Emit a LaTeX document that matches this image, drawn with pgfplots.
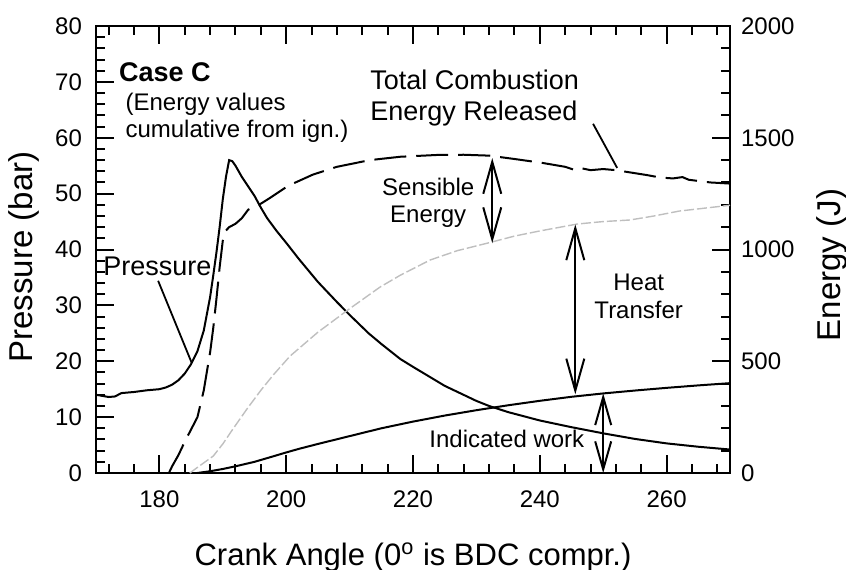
\documentclass[border=0pt]{standalone}
\usepackage{fontspec}
\setmainfont{Liberation Sans}
\usepackage{pgfplots}
\pgfplotsset{compat=1.18}
\usetikzlibrary{arrows.meta}

\pgfplotstableread{
x P
170 14.0
171 13.8
172 13.6
173 13.7
174 14.3
176 14.5
178 14.8
180 15.0
181 15.3
182 15.8
183 16.6
184 17.8
185 19.5
186 21.8
187 25.5
188 31.5
188.5 35.4
189 39.5
189.5 44
190 49
190.5 53
191 56
191.5 55.8
192 55
193 53
194 51.3
195 49.6
196 47.5
197 45.6
198.5 43.3
200 41.2
202 38.3
205 34.2
208 30.6
210 28.3
213 25.0
215 23.1
218 20.4
220 19.0
225 15.6
230 12.9
232 12.0
235 10.9
240 9.4
245 8.2
250 7.1
255 6.1
260 5.3
265 4.7
270 4.2
}\pressure

\pgfplotstableread{
x E
181.5 0
182 30
183 80
184 140
185 195
186 250
187 370
188 540
188.5 650
189 780
189.5 920
190 1040
190.5 1085
191 1100
192 1115
193 1140
194 1178
195 1192
196 1205
197.4 1230
200.3 1285
204.2 1335
208 1370
213.2 1400
218 1415
223.8 1423
228 1424
232 1420
236 1405
240.5 1387
244 1370
245.5 1356
246.5 1364
248 1355
250 1360
252 1355
256.9 1333
259 1322
261 1318
262.5 1324
263.5 1312
266.9 1300
270 1295
}\total

\pgfplotstableread{
x E
184.8 0
186 25
188.5 76
190 130
191.6 197
193.8 286
196 370
198 440
200.6 523
205 630
210 735
214.8 832
218 885
222.7 953
227 995
232.1 1031
236 1060
240 1083
245.9 1114
250 1125
254.2 1132
258 1150
262 1172
266 1185
270 1198
}\sensible

\pgfplotstableread{
x E
186 0
188 8
190 18
192 30
195 50
198 75
200 92
202 108
205 130
210 165
215 200
220 230
225 257
230 281
235 303
240 323
245 341
250 356
255 369
260 381
265 392
270 402
}\work

\begin{document}
\begin{tikzpicture}
\useasboundingbox (-48pt,-48pt) rectangle (375pt,236.5pt);
\pgfplotsset{
  common/.style={
    at={(0,0)}, anchor=south west,
    scale only axis, width=317pt, height=223.5pt,
    xmin=170, xmax=270,
    tick align=inside,
    major tick length=9pt, minor tick length=4.5pt,
    tick style={black, line width=1pt},
    axis line style={line width=1.4pt},
    /pgf/number format/assume math mode=true,
    /pgf/number format/set thousands separator={},
    scaled ticks=false,
    ticklabel style={font=\fontsize{12}{14}\selectfont},
    clip=false,
  }
}
\begin{axis}[
  common,
  ymin=0, ymax=80,
  xtick={180,200,...,260},
  minor xtick={172,176,...,268},
  ytick={0,10,...,80},
  minor y tick num=4,
  ytick pos=left,
  xtick pos=both,
  xticklabel pos=bottom,
  yticklabel style={xshift=-3.5pt},
  xticklabel style={yshift=-5.5pt},
]
\addplot[black, line width=1pt] table[x=x,y=P] {\pressure};

\begin{scope}[every node/.style={inner sep=0pt, font=\fontsize{13.5}{15}\selectfont}]
\node[anchor=base west, font=\fontsize{13.5}{15}\selectfont\bfseries] at (axis cs:173.6,70.0) {Case C};
\node[anchor=base west, font=\fontsize{12}{14}\selectfont] at (axis cs:174.6,64.8) {(Energy values};
\node[anchor=base west, font=\fontsize{12}{14}\selectfont] at (axis cs:174.6,60.0) {cumulative from ign.)};
\node[anchor=base west] at (axis cs:171.1,35.4) {Pressure};
\node[anchor=base west] at (axis cs:213.2,68.7) {Total Combustion};
\node[anchor=base west] at (axis cs:213.2,63.1) {Energy Released};
\node[anchor=base, font=\fontsize{12}{14}\selectfont] at (axis cs:222.4,49.6) {Sensible};
\node[anchor=base, font=\fontsize{12}{14}\selectfont] at (axis cs:222.4,44.8) {Energy};
\node[anchor=base, font=\fontsize{12}{14}\selectfont] at (axis cs:255.6,32.7) {Heat};
\node[anchor=base, font=\fontsize{12}{14}\selectfont] at (axis cs:255.6,27.7) {Transfer};
\node[anchor=base, font=\fontsize{12}{14}\selectfont] at (axis cs:234.8,4.5) {Indicated work};
\end{scope}
\draw[line width=0.9pt] (axis cs:179.8,34.4) -- (axis cs:185.1,19.7);
\draw[line width=0.9pt] (axis cs:248.4,62.5) -- (axis cs:252.2,54.6);
\end{axis}

\begin{axis}[
  common,
  ymin=0, ymax=2000,
  hide x axis,
  ytick={0,500,...,2000},
  minor y tick num=4,
  ytick pos=right,
  yticklabel pos=right,
  yticklabel style={xshift=2pt},
]
\addplot[black, line width=1pt, dash pattern=on 16pt off 5pt] table[x=x,y=E] {\total};
\addplot[gray!50, line width=0.7pt, dash pattern=on 5pt off 1.5pt] table[x=x,y=E] {\sensible};
\addplot[black, line width=1pt] table[x=x,y=E] {\work};

\draw[line width=1pt, {Straight Barb[length=16pt,width=9pt]}-{Straight Barb[length=16pt,width=9pt]}] (axis cs:232.5,1409) -- (axis cs:232.5,1029);
\draw[line width=1pt, {Straight Barb[length=16pt,width=9pt]}-{Straight Barb[length=16pt,width=9pt]}] (axis cs:245.6,1112) -- (axis cs:245.6,352);
\draw[line width=1pt, {Straight Barb[length=14pt,width=8pt]}-{Straight Barb[length=14pt,width=8pt]}] (axis cs:250,356) -- (axis cs:250,0);
\end{axis}

\node[anchor=base, inner sep=0pt, font=\fontsize{15.5}{18}\selectfont] at (158.5pt,-46pt) {Crank Angle (0\textsuperscript{o} is BDC compr.)};
\node[rotate=90, anchor=base, inner sep=0pt, font=\fontsize{16.5}{19}\selectfont] at (-31.5pt,108pt) {Pressure (bar)};
\node[rotate=90, anchor=base, inner sep=0pt, font=\fontsize{16.5}{19}\selectfont] at (372pt,104pt) {Energy (J)};
\end{tikzpicture}
\end{document}
